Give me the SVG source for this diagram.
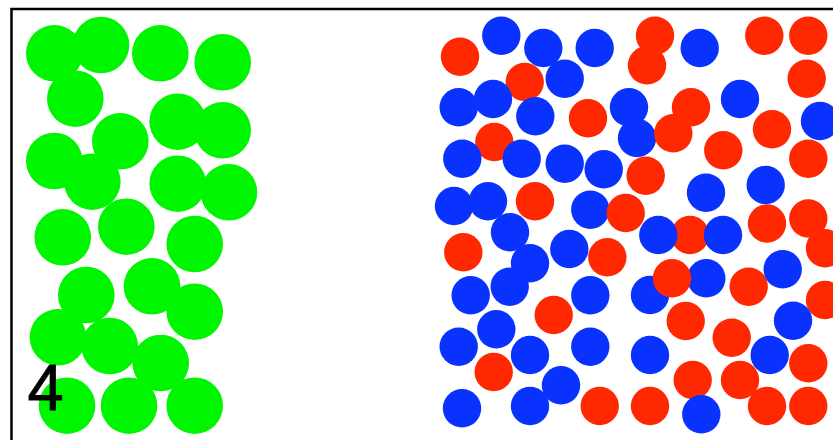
<svg xmlns="http://www.w3.org/2000/svg" width="833" height="440" viewBox="0 0 833 440">
<style>
.g{fill:#00f500}
.b{fill:#0a32ff}
.r{fill:#ff2800}
.lbl{font-family:"Liberation Sans",Arial,sans-serif;font-size:65px;fill:#000;stroke:#000;stroke-width:0.8}
</style>
<rect x="0" y="0" width="833" height="440" fill="#fff"/>
<rect x="11.5" y="9" width="900" height="500" fill="none" stroke="#000" stroke-width="2.5"/>
<g id="green">
<circle class="g" cx="54.3" cy="53.3" r="28.3"/>
<circle class="g" cx="101" cy="45" r="28.3"/>
<circle class="g" cx="160.3" cy="53.3" r="28.3"/>
<circle class="g" cx="222.7" cy="62.3" r="28.3"/>
<circle class="g" cx="75.3" cy="98.7" r="28.3"/>
<circle class="g" cx="177.7" cy="121.7" r="28.3"/>
<circle class="g" cx="222.7" cy="130.3" r="28.3"/>
<circle class="g" cx="120.3" cy="141.3" r="28.3"/>
<circle class="g" cx="54.3" cy="161" r="28.3"/>
<circle class="g" cx="92.3" cy="181.7" r="28.3"/>
<circle class="g" cx="177.7" cy="183.7" r="28.3"/>
<circle class="g" cx="229" cy="192.3" r="28.3"/>
<circle class="g" cx="62.7" cy="237.3" r="28.3"/>
<circle class="g" cx="126.3" cy="226.7" r="28.3"/>
<circle class="g" cx="194.7" cy="244" r="28.3"/>
<circle class="g" cx="86.3" cy="295" r="28.3"/>
<circle class="g" cx="152" cy="286.3" r="28.3"/>
<circle class="g" cx="194.7" cy="311.7" r="28.3"/>
<circle class="g" cx="58" cy="337.3" r="28.3"/>
<circle class="g" cx="109.7" cy="346" r="28.3"/>
<circle class="g" cx="160.7" cy="363" r="28.3"/>
<circle class="g" cx="67" cy="405.7" r="28.3"/>
<circle class="g" cx="129" cy="405.7" r="28.3"/>
<circle class="g" cx="194.7" cy="405.7" r="28.3"/>
</g>
<text class="lbl" x="27.5" y="410">4</text>
<g id="particles">
<circle class="r" cx="460" cy="56.7" r="19.2"/>
<circle class="b" cx="501.3" cy="35.7" r="19.2"/>
<circle class="b" cx="543.3" cy="48" r="19.2"/>
<circle class="b" cx="594.7" cy="48" r="19.2"/>
<circle class="r" cx="524.7" cy="82" r="19.2"/>
<circle class="b" cx="564.7" cy="78.7" r="19.2"/>
<circle class="b" cx="458.7" cy="107.3" r="19.2"/>
<circle class="b" cx="493" cy="99" r="19.2"/>
<circle class="r" cx="494.3" cy="142" r="19.2"/>
<circle class="b" cx="535.3" cy="116.3" r="19.2"/>
<circle class="r" cx="588" cy="118.3" r="19.2"/>
<circle class="b" cx="462.3" cy="158.7" r="19.2"/>
<circle class="b" cx="521.7" cy="158.7" r="19.2"/>
<circle class="b" cx="564.7" cy="163.7" r="19.2"/>
<circle class="b" cx="603.7" cy="169.3" r="19.2"/>
<circle class="b" cx="454" cy="206" r="19.2"/>
<circle class="b" cx="488" cy="201.3" r="19.2"/>
<circle class="r" cx="535" cy="201.3" r="19.2"/>
<circle class="b" cx="590.3" cy="209.7" r="19.2"/>
<circle class="r" cx="625.7" cy="213" r="19.2"/>
<circle class="r" cx="655" cy="35.7" r="19.2"/>
<circle class="r" cx="647" cy="65.3" r="19.2"/>
<circle class="b" cx="699.7" cy="48" r="19.2"/>
<circle class="r" cx="764.3" cy="35.7" r="19.2"/>
<circle class="r" cx="808.3" cy="35.7" r="19.2"/>
<circle class="r" cx="806.7" cy="78.7" r="19.2"/>
<circle class="b" cx="740" cy="99" r="19.2"/>
<circle class="b" cx="629" cy="107.3" r="19.2"/>
<circle class="r" cx="691" cy="107.3" r="19.2"/>
<circle class="b" cx="637" cy="138" r="19.2"/>
<circle class="r" cx="673.3" cy="133.3" r="19.2"/>
<circle class="r" cx="772" cy="129.3" r="19.2"/>
<circle class="b" cx="820" cy="121" r="19.2"/>
<circle class="r" cx="723.3" cy="150.3" r="19.2"/>
<circle class="r" cx="808.3" cy="158.7" r="19.2"/>
<circle class="r" cx="645.7" cy="175.7" r="19.2"/>
<circle class="b" cx="706" cy="192.7" r="19.2"/>
<circle class="b" cx="765.7" cy="185" r="19.2"/>
<circle class="r" cx="690" cy="235" r="19.2"/>
<circle class="b" cx="658.3" cy="235" r="19.2"/>
<circle class="b" cx="723" cy="235" r="19.2"/>
<circle class="r" cx="767" cy="223.5" r="19.2"/>
<circle class="r" cx="808.3" cy="218.5" r="19.2"/>
<circle class="r" cx="825" cy="248.3" r="19.2"/>
<circle class="b" cx="650" cy="295" r="19.2"/>
<circle class="b" cx="706.3" cy="278.3" r="19.2"/>
<circle class="r" cx="672" cy="278.3" r="19.2"/>
<circle class="r" cx="748.7" cy="286.7" r="19.2"/>
<circle class="b" cx="782.7" cy="269.3" r="19.2"/>
<circle class="r" cx="825" cy="300" r="19.2"/>
<circle class="r" cx="685.7" cy="321" r="19.2"/>
<circle class="r" cx="731.7" cy="337.7" r="19.2"/>
<circle class="b" cx="793" cy="320.7" r="19.2"/>
<circle class="b" cx="650" cy="355" r="19.2"/>
<circle class="b" cx="769.7" cy="355" r="19.2"/>
<circle class="r" cx="808.3" cy="363.3" r="19.2"/>
<circle class="r" cx="692.7" cy="380" r="19.2"/>
<circle class="r" cx="740" cy="380" r="19.2"/>
<circle class="r" cx="650" cy="406" r="19.2"/>
<circle class="b" cx="701.3" cy="414.3" r="19.2"/>
<circle class="r" cx="767" cy="406" r="19.2"/>
<circle class="r" cx="808.3" cy="406" r="19.2"/>
<circle class="b" cx="510" cy="232.3" r="19.2"/>
<circle class="r" cx="463.3" cy="252.3" r="19.2"/>
<circle class="b" cx="530" cy="263.3" r="19.2"/>
<circle class="b" cx="569.3" cy="249" r="19.2"/>
<circle class="r" cx="607.3" cy="257.3" r="19.2"/>
<circle class="b" cx="470.7" cy="295.3" r="19.2"/>
<circle class="b" cx="509.7" cy="286.7" r="19.2"/>
<circle class="b" cx="590.3" cy="295.3" r="19.2"/>
<circle class="r" cx="553.7" cy="315" r="19.2"/>
<circle class="b" cx="496.3" cy="329.3" r="19.2"/>
<circle class="b" cx="458.7" cy="346.7" r="19.2"/>
<circle class="b" cx="530" cy="355" r="19.2"/>
<circle class="b" cx="590.3" cy="346.7" r="19.2"/>
<circle class="r" cx="493.7" cy="372" r="19.2"/>
<circle class="b" cx="561" cy="385.3" r="19.2"/>
<circle class="b" cx="462" cy="408.3" r="19.2"/>
<circle class="b" cx="530" cy="406" r="19.2"/>
<circle class="r" cx="599.7" cy="406" r="19.2"/>
</g>
</svg>
